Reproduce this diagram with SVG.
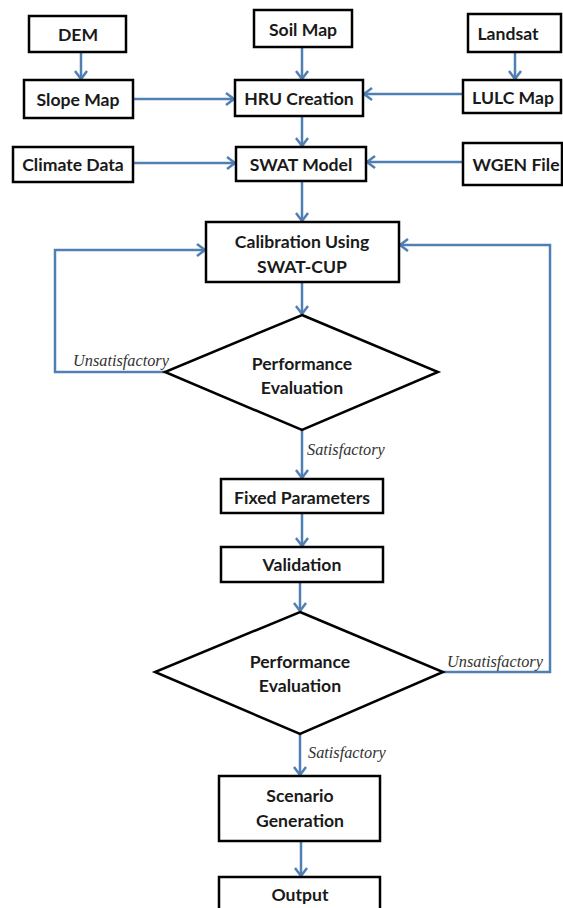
<svg xmlns="http://www.w3.org/2000/svg" width="563" height="908" viewBox="0 0 563 908">
<style>
.box{fill:#fff;stroke:#000;stroke-width:2.5}
.t{font-family:Lato,"Open Sans","Liberation Sans",sans-serif;font-weight:700;font-size:17.6px;fill:#1a1a1a;text-anchor:middle;dominant-baseline:central}
.lbl{font-family:"Liberation Serif","DejaVu Serif",serif;font-style:italic;font-size:16.3px;fill:#333}
.c{fill:none;stroke:#4f7fb3;stroke-width:2.5;marker-end:url(#ah)}
</style>
<defs>
<marker id="ah" markerUnits="userSpaceOnUse" markerWidth="16" markerHeight="16" viewBox="-10 -8 12 16" refX="0" refY="0" orient="auto">
<path d="M-8,-6 L0,0 L-8,6" fill="none" stroke="#4f7fb3" stroke-width="2.5"/>
</marker>
</defs>
<rect width="563" height="908" fill="#fff"/>
<g id="connectors">
<path class="c" d="M81,52 V79"/>
<path class="c" d="M302,47 V79"/>
<path class="c" d="M515,52 V79"/>
<path class="c" d="M133,99 H234"/>
<path class="c" d="M463,94 H364"/>
<path class="c" d="M302,116 V146"/>
<path class="c" d="M133,163 H235"/>
<path class="c" d="M463,162 H367"/>
<path class="c" d="M302,181 V221"/>
<path class="c" d="M302,282 V314"/>
<path class="c" d="M165,372 H55 V250 H205"/>
<path class="c" d="M302,430 V478"/>
<path class="c" d="M302,513 V546"/>
<path class="c" d="M300,582 V611"/>
<path class="c" d="M443,672 H550 V245 H400"/>
<path class="c" d="M300,734 V775"/>
<path class="c" d="M301,841 V876"/>
<text class="lbl" x="73" y="366">Unsatisfactory</text>
<text class="lbl" x="307" y="455">Satisfactory</text>
<text class="lbl" x="447" y="667">Unsatisfactory</text>
<text class="lbl" x="308" y="758">Satisfactory</text>
</g>
<g id="dem"><rect class="box" x="29" y="16" width="97" height="36"/><text class="t" x="78" y="34">DEM</text></g>
<g id="soil"><rect class="box" x="254" y="10" width="98" height="37"/><text class="t" x="303" y="29">Soil Map</text></g>
<g id="landsat"><rect class="box" x="468" y="14" width="93" height="38"/><text class="t" x="508" y="33">Landsat</text></g>
<g id="slope"><rect class="box" x="24" y="80" width="109" height="38"/><text class="t" x="78" y="99">Slope Map</text></g>
<g id="hru"><rect class="box" x="235" y="80" width="128" height="36"/><text class="t" x="299" y="98">HRU Creation</text></g>
<g id="lulc"><rect class="box" x="463" y="80" width="98" height="33"/><text class="t" x="513" y="97">LULC Map</text></g>
<g id="climate"><rect class="box" x="13" y="147" width="120" height="35"/><text class="t" x="73" y="164">Climate Data</text></g>
<g id="swat"><rect class="box" x="236" y="147" width="130" height="34"/><text class="t" x="301" y="164">SWAT Model</text></g>
<g id="wgen"><rect class="box" x="463" y="143" width="99" height="42"/><text class="t" x="516" y="164">WGEN File</text></g>
<g id="calibration"><rect class="box" x="206" y="222" width="193" height="60"/><text class="t" x="302" y="241">Calibration Using</text><text class="t" x="302" y="266">SWAT-CUP</text></g>
<g id="perf1"><polygon class="box" points="302,315 438,372 302,430 165,372"/><text class="t" x="302" y="363">Performance</text><text class="t" x="302" y="387">Evaluation</text></g>
<g id="fixed"><rect class="box" x="221" y="479" width="162" height="34"/><text class="t" x="302" y="497">Fixed Parameters</text></g>
<g id="validation"><rect class="box" x="221" y="547" width="162" height="35"/><text class="t" x="302" y="564">Validation</text></g>
<g id="perf2"><polygon class="box" points="300,612 443,672 300,734 155,672"/><text class="t" x="300" y="661">Performance</text><text class="t" x="300" y="685">Evaluation</text></g>
<g id="scenario"><rect class="box" x="219" y="776" width="161" height="65"/><text class="t" x="300" y="795">Scenario</text><text class="t" x="300" y="820">Generation</text></g>
<g id="output"><rect class="box" x="219" y="877" width="161" height="40"/><text class="t" x="300" y="894">Output</text></g>
</svg>
